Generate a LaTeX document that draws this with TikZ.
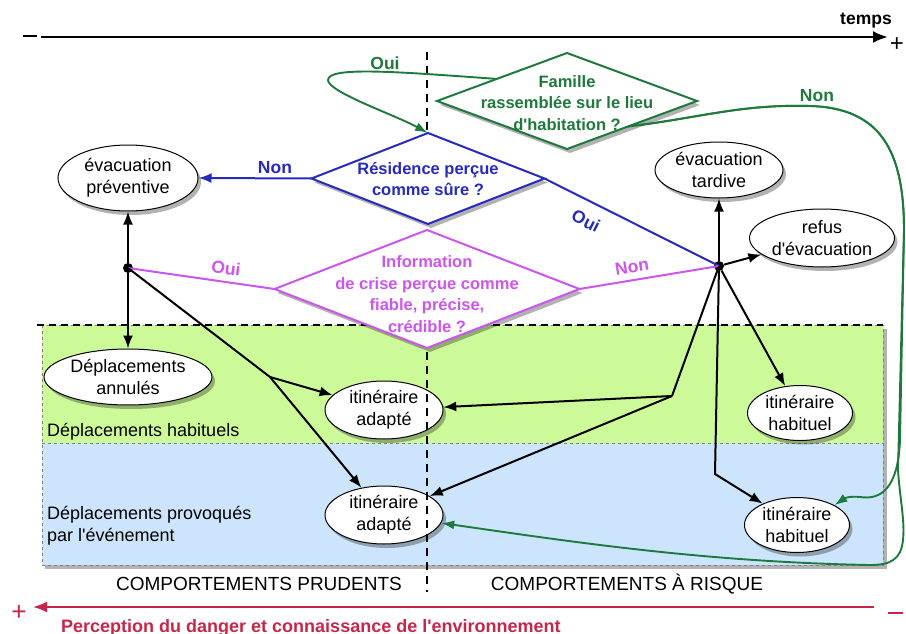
\documentclass[tikz,border=0pt]{standalone}
\usepackage{fontspec}
\setmainfont{Liberation Sans}
\usetikzlibrary{shapes.geometric,arrows.meta,shadows,calc}
\definecolor{cgreen}{RGB}{30,122,60}
\definecolor{cblue}{RGB}{40,42,190}
\definecolor{cpurple}{RGB}{204,85,238}
\definecolor{cred}{RGB}{200,38,72}
\definecolor{bandgreen}{RGB}{205,250,153}
\definecolor{bandblue}{RGB}{204,229,252}
\newcommand{\apo}{\textquotesingle}
\begin{document}
\begin{tikzpicture}[x=1pt,y=-1pt,
  shad/.style={drop shadow={shadow xshift=3pt,shadow yshift=-4pt,opacity=0.3,fill=black}},
  oval/.style={ellipse,draw=black,line width=1pt,fill=white,shad,inner sep=0pt,align=center,font=\fontsize{18}{22}\selectfont},
  decision/.style={diamond,line width=2pt,fill=white,shad,inner sep=0pt,outer sep=0pt},
  dtext/.style={align=center,font=\bfseries\fontsize{16.5}{21.5}\selectfont},
  lab/.style={font=\bfseries\fontsize{17.5}{20}\selectfont},
  arr/.style={line width=2pt,-{Latex[length=13pt,width=10pt]}},
  plainline/.style={line width=2pt},
  garr/.style={cgreen,line width=1.9pt,-{Latex[length=13pt,width=9pt]}},
  junction/.style={circle,fill=black,inner sep=0pt,minimum size=10pt},
  bandtext/.style={anchor=base west,font=\fontsize{18}{22}\selectfont,align=left,inner sep=0pt},
  colhead/.style={font=\fontsize{19}{22}\selectfont,inner sep=0pt},
]
\useasboundingbox (0,0) rectangle (906,634);

% bands
\fill[black,opacity=0.3] (45,329) rectangle (887,569);
\fill[bandgreen] (42,325) rectangle (883,443);
\fill[bandblue] (42,443) rectangle (883,565);
\draw[gray,dashed,line width=0.6pt] (42,325) rectangle (883,565);
\draw[gray,dashed,line width=0.6pt] (42,443) -- (883,443);
\draw[line width=2pt,dash pattern=on 7pt off 5pt] (37,325) -- (883,325);

\node[bandtext] (t1) at (47,436) {Déplacements habituels};
\node[bandtext,align=left,anchor=north west] (t2) at (47,506) {Déplacements provoqués\\par l\apo événement};

% top time axis
\coordinate (tL) at (41,37);
\coordinate (tR) at (888,37);
\draw[line width=2.6pt,-{Latex[length=15pt,width=12pt]}] (tL) -- (tR);
\draw[line width=1.4pt] (23,36) -- (37,36);
\node[font=\bfseries\fontsize{17.5}{20}\selectfont] (temps) at (866,21) {temps};
\node[font=\fontsize{24}{24}\selectfont,inner sep=0pt] (plus1) at (897,45) {+};

% bottom red axis
\coordinate (rR) at (874,607);
\coordinate (rL) at (33,607);
\draw[cred,line width=2pt,-{Latex[length=14pt,width=11pt]}] (rR) -- (rL);
\node[text=cred,font=\fontsize{26}{26}\selectfont,inner sep=0pt] (plus2) at (19,613) {+};
\draw[cred,line width=1.4pt] (888,613) -- (903,613);
\node[text=cred,anchor=base west,font=\bfseries\fontsize{18}{20}\selectfont,inner sep=0pt] (perc) at (61,632) {Perception du danger et connaissance de l\apo environnement};

% column headers
\node[colhead] (cp) at (259,584) {COMPORTEMENTS PRUDENTS};
\node[colhead] (cr) at (627,584) {COMPORTEMENTS À RISQUE};

% ellipses
\node[oval,minimum width=140pt,minimum height=66pt] (evp) at (128,178) {évacuation\\préventive};
\node[oval,minimum width=128pt,minimum height=56pt] (evt) at (719,170) {évacuation\\tardive};
\node[oval,minimum width=145pt,minimum height=58pt] (ref) at (822,238) {refus\\d\apo évacuation};
\node[oval,minimum width=168pt,minimum height=56pt] (dan) at (128,377) {Déplacements\\annulés};
\node[oval,minimum width=118pt,minimum height=58pt] (ia1) at (384,410) {itinéraire\\adapté};
\node[oval,minimum width=118pt,minimum height=58pt] (ia2) at (384,515) {itinéraire\\adapté};
\node[oval,minimum width=105pt,minimum height=55pt] (ih1) at (800,413) {itinéraire\\habituel};
\node[oval,minimum width=105pt,minimum height=55pt] (ih2) at (797,525) {itinéraire\\habituel};

% vertical dashed separator
\draw[line width=2pt,dash pattern=on 8pt off 6pt] (427,52) -- (427,130);
\draw[line width=2pt,dash pattern=on 8pt off 6pt] (427,352) -- (427,592);

% decisions
\node[decision,draw=cgreen,minimum width=260pt,minimum height=96pt] (fam) at (567,101) {};
\node[dtext,text=cgreen] (famt) at (567,103) {Famille\\rassemblée sur le lieu\\d\apo habitation ?};
\node[decision,draw=cblue,minimum width=233pt,minimum height=91pt] (res) at (428,178.5) {};
\node[dtext,text=cblue] (rest) at (428,179) {Résidence perçue\\comme sûre ?};
\node[decision,draw=cpurple,minimum width=305pt,minimum height=118pt] (inf) at (427,289) {};
\node[dtext,text=cpurple] (inft) at (427,294) {Information\\de crise perçue comme\\fiable, précise,\\crédible ?};

% junctions
\node[junction] (jL) at (128,268) {};
\node[junction] (jR) at (719,266) {};
\coordinate (kL) at (270,377);
\coordinate (kR) at (672,396);
\coordinate (kB) at (715,474);

% coloured decision branches
\draw[cblue,line width=2pt,-{Latex[length=13pt,width=10pt]}] (res.west) -- (evp.east);
\draw[cblue,plainline] (res.east) -- (jR.center);
\draw[cpurple,plainline] (inf.west) -- (jL.center);
\draw[cpurple,plainline] (inf.east) -- (jR.center);

\node[lab,text=cblue] (lnon1) at (275,168) {Non};
\node[lab,text=cblue,rotate=-27,inner sep=0pt] (loui1) at (586,221) {Oui};
\node[lab,text=cpurple,rotate=-7] (loui2) at (226,268) {Oui};
\node[lab,text=cpurple,rotate=9] (lnon2) at (632,267) {Non};
\node[lab,text=cgreen] (loui3) at (385,63) {Oui};
\node[lab,text=cgreen] (lnon3) at (817,96) {Non};

% black connectors (left)
\draw[arr] (jL) -- (evp.south);
\draw[arr] (jL) -- (dan.north);
\draw[plainline] (jL.center) -- (kL);
\draw[arr] (kL) -- (ia1);
\draw[arr] (kL) -- (ia2);

% black connectors (right)
\draw[arr] (jR) -- (evt.south);
\draw[arr] (jR) -- (ref);
\draw[arr] (jR) -- (ih1);
\draw[arr] (jR.center) -- (kB) -- (ih2);
\draw[plainline] (jR.center) -- (kR);
\draw[arr] (kR) -- (ia1);
\draw[arr] (kR) -- (ia2);

% green curves
\draw[garr] ($(fam.west)!0.46!(fam.north)$) .. controls (400,72) and (328,66) .. (328,80)
  .. controls (328,92) and (395,115) .. (res.north);
\draw[garr] ($(fam.east)!0.53!(fam.south)$) .. controls (700,118) and (740,104) .. (810,106)
  .. controls (880,108) and (904,150) .. (904,230) -- (900,440)
  .. controls (898,490) and (880,500) .. (860,497) .. controls (850,496) and (845,498) .. (ih2.north east);
\draw[garr] ($(fam.east)!0.53!(fam.south)$) .. controls (700,118) and (740,104) .. (810,106)
  .. controls (880,108) and (904,150) .. (904,230) -- (898,470)
  .. controls (900,500) and (905,520) .. (903,540) .. controls (901,560) and (890,565) .. (870,565)
  .. controls (700,562) and (560,540) .. (ia2.-8);
\end{tikzpicture}
\end{document}
